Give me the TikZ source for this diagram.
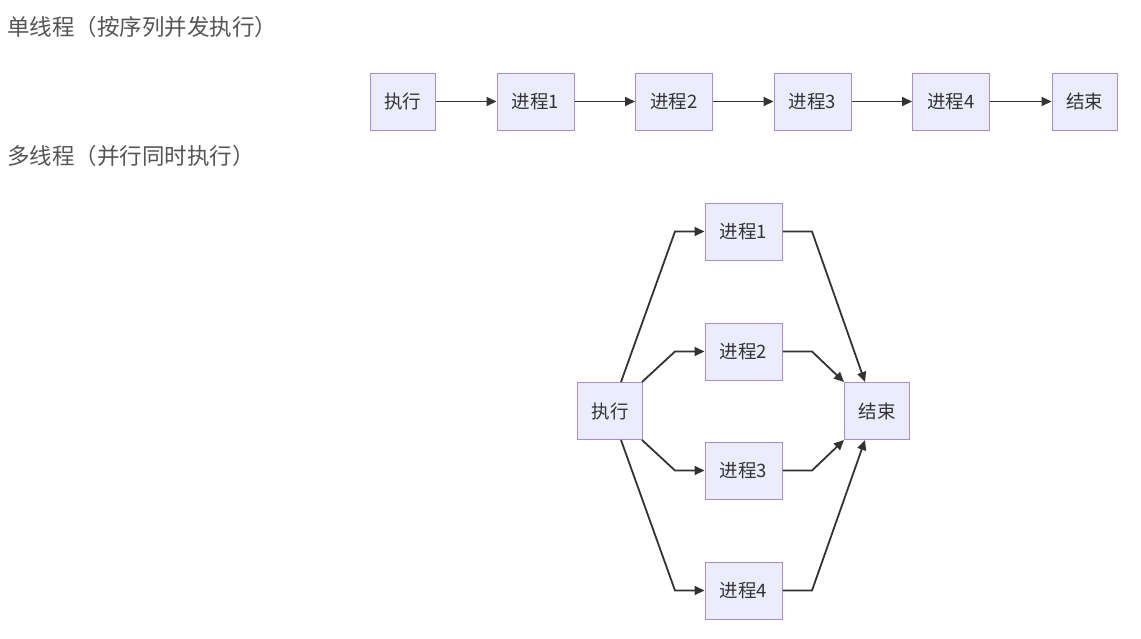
\documentclass[tikz,border=0pt]{standalone}
\usepackage{fontspec}
\setmainfont{Noto Sans CJK SC}
\usetikzlibrary{arrows.meta}
\definecolor{nodefill}{HTML}{ECECFF}
\definecolor{nodeline}{HTML}{A88BE0}
\definecolor{edgecol}{HTML}{333333}
\definecolor{titlecol}{HTML}{555555}
\begin{document}
\begin{tikzpicture}[x=1pt,y=-1pt,
  box/.style={draw=nodeline,fill=nodefill,line width=1pt,minimum height=57pt,inner sep=0pt,
    text=edgecol,font=\fontsize{18.5}{20}\selectfont},
  sbox/.style={box,minimum width=65pt},
  wbox/.style={box,minimum width=77pt},
  edge/.style={draw=edgecol,line width=1.8pt,-{Triangle[length=10pt,width=9pt]}},
  title/.style={anchor=west,text=titlecol,font=\fontsize{22.5}{26}\selectfont,inner sep=0pt}]
\useasboundingbox (0,0) rectangle (1141,638);
\node[title] (t1) at (7,27) {单线程（按序列并发执行）};
\node[title] (t2) at (7,156) {多线程（并行同时执行）};
% single thread
\node[sbox] (a0) at (402.5,101.5) {执行};
\node[wbox] (a1) at (535.5,101.5) {进程1};
\node[wbox] (a2) at (674,101.5) {进程2};
\node[wbox] (a3) at (812.5,101.5) {进程3};
\node[wbox] (a4) at (951,101.5) {进程4};
\node[sbox] (a5) at (1084.5,101.5) {结束};
\draw[edge] (a0) -- (a1);
\draw[edge] (a1) -- (a2);
\draw[edge] (a2) -- (a3);
\draw[edge] (a3) -- (a4);
\draw[edge] (a4) -- (a5);
% multi thread
\node[sbox] (b0) at (610,411) {执行};
\node[wbox] (b1) at (743.5,231.5) {进程1};
\node[wbox] (b2) at (743.5,351.5) {进程2};
\node[wbox] (b3) at (743.5,470.5) {进程3};
\node[wbox] (b4) at (743.5,590.5) {进程4};
\node[sbox] (b5) at (877,411) {结束};
\coordinate (p1) at (675,231.5);
\coordinate (p2) at (675,351.5);
\coordinate (p3) at (675,470.5);
\coordinate (p4) at (675,590.5);
\coordinate (q1) at (812,231.5);
\coordinate (q2) at (812,351.5);
\coordinate (q3) at (812,470.5);
\coordinate (q4) at (812,590.5);
\draw[edge] ([xshift=11pt]b0.north) -- (p1) -- (b1.west);
\draw[edge] ([xshift=-1pt]b0.north east) -- (p2) -- (b2.west);
\draw[edge] ([xshift=-1pt]b0.south east) -- (p3) -- (b3.west);
\draw[edge] ([xshift=11pt]b0.south) -- (p4) -- (b4.west);
\draw[edge] (b1.east) -- (q1) -- ([xshift=-12pt]b5.north);
\draw[edge] (b2.east) -- (q2) -- (b5.north west);
\draw[edge] (b3.east) -- (q3) -- (b5.south west);
\draw[edge] (b4.east) -- (q4) -- ([xshift=-12pt]b5.south);
\end{tikzpicture}
\end{document}
